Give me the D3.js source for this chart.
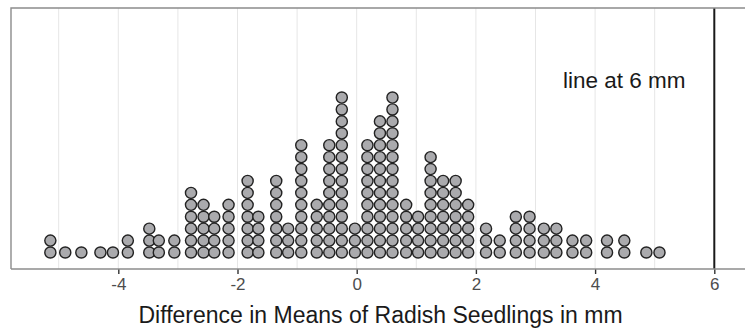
<!DOCTYPE html>
<html>
<head>
<meta charset="utf-8">
<script src="https://cdn.jsdelivr.net/npm/d3@7"></script>
<style>
  body { margin: 0; background: #fff; }
  svg { display: block; font-family: "Liberation Sans", Arial, sans-serif; }
  .tick text { font-size: 17px; }
</style>
</head>
<body>
<svg id="chart" width="745" height="330"></svg>
<script>
// Bin centres (difference in means, mm) and number of stacked dots per bin
const binCenters = [-5.14, -4.89, -4.62, -4.30, -4.09, -3.84, -3.48, -3.32, -3.06, -2.78,
  -2.57, -2.39, -2.15, -1.83, -1.65, -1.35, -1.15, -0.93, -0.67, -0.46,
  -0.25, -0.03, 0.18, 0.39, 0.60, 0.83, 1.03, 1.24, 1.45, 1.66,
  1.87, 2.17, 2.40, 2.67, 2.90, 3.14, 3.35, 3.62, 3.85, 4.20,
  4.49, 4.86, 5.08];
const binCounts = [2, 1, 1, 1, 1, 2, 3, 2, 2, 6,
  5, 4, 5, 7, 4, 7, 3, 10, 5, 10,
  14, 3, 10, 12, 14, 5, 4, 9, 7, 7,
  5, 3, 2, 4, 4, 3, 3, 2, 2, 2,
  2, 1, 1];
const tickValues = [-4, -2, 0, 2, 4, 6];
const gridValues = [-5, -4, -3, -2, -1, 0, 1, 2, 3, 4, 5];
const lineValue = 6;
const lineLabel = "line at 6 mm";
const xTitle = "Difference in Means of Radish Seedlings in mm";
const binWidth = 0.2;

const svg = d3.select("#chart");
const panel = { left: 11, top: 8, right: 760, bottom: 269 };

const x = d3.scaleLinear().domain([0, 6]).range([356.7, 714.3]);
const dotD = x(binWidth) - x(0);
const y = d3.scaleLinear().domain([0, 1]).range([252.5, 252.5 - dotD]);

// panel background
svg.append("rect")
  .attr("x", panel.left).attr("y", panel.top)
  .attr("width", panel.right - panel.left).attr("height", panel.bottom - panel.top)
  .attr("fill", "#fff");

// grid
svg.append("g").selectAll("line").data(gridValues).join("line")
  .attr("x1", d => x(d)).attr("x2", d => x(d))
  .attr("y1", panel.top).attr("y2", panel.bottom)
  .attr("stroke", "#e6e6e6").attr("stroke-width", 1);

// dots
const dots = [];
binCenters.forEach((c, i) => {
  for (let k = 0; k < binCounts[i]; k++) dots.push({ x: c, k });
});
svg.append("g").selectAll("circle").data(dots).join("circle")
  .attr("cx", d => x(d.x))
  .attr("cy", d => y(d.k))
  .attr("r", dotD / 2 - 0.4)
  .attr("fill", "#aaaaad")
  .attr("stroke", "#222")
  .attr("stroke-width", 1.4);

// vertical reference line
svg.append("line")
  .attr("x1", x(lineValue)).attr("x2", x(lineValue))
  .attr("y1", panel.top).attr("y2", panel.bottom)
  .attr("stroke", "#1a1a1a").attr("stroke-width", 2);

// annotation
svg.append("text")
  .attr("x", x(4.49)).attr("y", 80)
  .attr("text-anchor", "middle").attr("dominant-baseline", "central")
  .style("font-size", "22.5px").attr("fill", "#1a1a1a")
  .text(lineLabel);

// panel border (top + left)
svg.append("path")
  .attr("d", `M${panel.left},${panel.bottom}V${panel.top}H${panel.right}`)
  .attr("fill", "none").attr("stroke", "#8c8c8c").attr("stroke-width", 1.4);

// x axis
const axis = d3.axisBottom(x).tickValues(tickValues).tickSize(5).tickPadding(4)
  .tickFormat(d3.format("d"));
const gx = svg.append("g").attr("transform", `translate(0,${panel.bottom})`).call(axis);
gx.attr("font-size", null).attr("font-family", null);
gx.select(".domain").remove();
gx.append("line").attr("x1", panel.left).attr("x2", panel.right)
  .attr("stroke", "#8c8c8c").attr("stroke-width", 1.4);
gx.selectAll(".tick line").attr("stroke", "#333").attr("stroke-width", 1.4);
gx.selectAll(".tick text").attr("fill", "#4d4d4d")
  .text(d => d < 0 ? "-" + Math.abs(d) : d);

// axis title
svg.append("text")
  .attr("x", (panel.left + 750) / 2).attr("y", 315)
  .attr("text-anchor", "middle").attr("dominant-baseline", "central")
  .style("font-size", "23px").attr("fill", "#1a1a1a")
  .text(xTitle);
</script>
</body>
</html>
